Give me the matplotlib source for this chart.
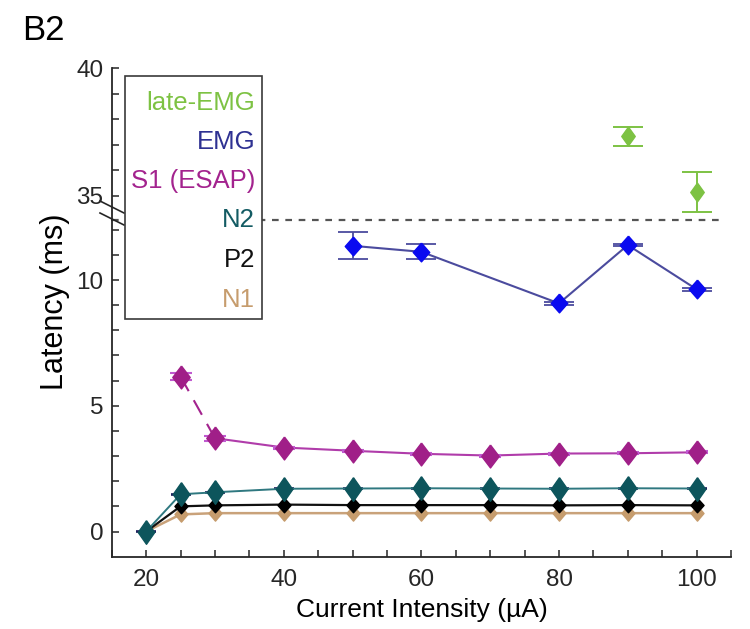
import matplotlib
matplotlib.use("Agg")
import matplotlib.pyplot as plt
from matplotlib.patches import Rectangle
from matplotlib.lines import Line2D

plt.rcParams['font.family'] = ['Liberation Sans', 'DejaVu Sans']

# stimulation currents (uA)
x_all = [20, 25, 30, 40, 50, 60, 70, 80, 90, 100]
x_s1 = [25, 30, 40, 50, 60, 70, 80, 90, 100]
x_emg = [50, 60, 80, 90, 100]
x_late = [90, 100]

# mean latencies (ms)
n1 = [0, 0.68, 0.73, 0.73, 0.73, 0.73, 0.73, 0.73, 0.73, 0.73]
p2 = [0, 1.00, 1.04, 1.07, 1.05, 1.05, 1.05, 1.04, 1.05, 1.04]
n2 = [0, 1.48, 1.56, 1.70, 1.71, 1.72, 1.71, 1.70, 1.72, 1.71]
s1 = [6.16, 3.71, 3.34, 3.21, 3.09, 3.02, 3.10, 3.11, 3.15]
emg = [11.36, 11.12, 9.07, 11.39, 9.63]
late_emg = [37.34, 35.15]

# standard errors (ms)
n2_err = [0.02] * 10
s1_err = [0.15, 0.1, 0.04, 0.04, 0.04, 0.04, 0.04, 0.04, 0.04]
emg_err = [0.53, 0.30, 0.05, 0.05, 0.05]
late_err = [0.37, 0.77]

legend_names = ['late-EMG', 'EMG', 'S1 (ESAP)', 'N2', 'P2', 'N1']
legend_colors = ['#7dc243', '#2e3192', '#a3238e', '#135b63', '#111111', '#c69c6d']

# axis break: lower panel up to y_break_low, upper panel starts at y_break_high
y_break_low = 12.38
y_break_high = 34.05


def diamond(ratio):
    return [(0, 1), (ratio, 0), (0, -1), (-ratio, 0), (0, 1)]


fig = plt.figure(figsize=(7.5, 6.29), dpi=100)
ax_lo = fig.add_axes([0.149, 0.115, 0.8257, 0.535])
ax_hi = fig.add_axes([0.149, 0.650, 0.8257, 0.2414], sharex=ax_lo)

spine_col = '#262626'
for ax in (ax_lo, ax_hi):
    ax.spines['top'].set_visible(False)
    ax.spines['right'].set_visible(False)
    ax.spines['left'].set_color(spine_col)
    ax.spines['left'].set_linewidth(1.3)
    ax.spines['bottom'].set_color(spine_col)
    ax.spines['bottom'].set_linewidth(1.3)
    ax.tick_params(which='both', direction='in', length=5, width=1.1,
                   colors=spine_col, labelsize=17.5, pad=6)
    ax.patch.set_alpha(0)

ax_hi.spines['bottom'].set_visible(False)
ax_hi.tick_params(axis='x', which='both', bottom=False, labelbottom=False)

ax_lo.set_xlim(15, 105)
ax_lo.set_xticks([20, 40, 60, 80, 100])
ax_lo.set_xticks(range(15, 106, 5), minor=True)
ax_lo.tick_params(axis='x', pad=9)
ax_lo.set_ylim(-1, y_break_low)
ax_lo.set_yticks([0, 5, 10])
ax_lo.set_yticks(range(0, 13), minor=True)
ax_hi.set_ylim(y_break_high, 40)
ax_hi.set_yticks([35, 40])
ax_hi.set_yticks(range(35, 41), minor=True)

# N1 / P2 / N2
ax_lo.plot(x_all, n1, color='#c9a27a', lw=1.8, zorder=3,
           marker=diamond(0.85), ms=11, mfc='#c69c6d', mec='#c69c6d')
ax_lo.plot(x_all, p2, color='#111111', lw=1.6, zorder=4,
           marker=diamond(0.9), ms=10.5, mfc='black', mec='black')
ax_lo.errorbar(x_all, n2, yerr=n2_err, color='#2f7880', lw=1.4, zorder=5,
               marker=diamond(0.7), ms=17, mfc='#0d555c', mec='#0d555c',
               ecolor='#1b1b5a', elinewidth=1.2, capsize=7, capthick=1.2)

# S1 (ESAP): dashed first segment, then solid
ax_lo.plot(x_s1[:2], s1[:2], color='#a3238e', lw=1.5, ls=(0, (8, 5)), zorder=5)
ax_lo.plot(x_s1[1:], s1[1:], color='#b03caa', lw=1.5, zorder=5)
ax_lo.errorbar(x_s1, s1, yerr=s1_err, fmt='none', ecolor='#c05ad0',
               elinewidth=1.2, capsize=8, capthick=1.5, zorder=6)
ax_lo.plot(x_s1, s1, ls='none', marker=diamond(0.76), ms=16.5,
           mfc='#a01f88', mec='#a01f88', zorder=6)

# EMG
ax_lo.errorbar(x_emg, emg, yerr=emg_err, color='#4b4b9e', lw=1.5, zorder=6,
               marker=diamond(0.88), ms=13.5, mfc='#0a0af0', mec='#0a0af0',
               ecolor='#4b4b9e', elinewidth=1.3, capsize=11, capthick=1.3)

# late EMG on the upper panel
ax_hi.errorbar(x_late, late_emg, yerr=late_err, fmt='none', ecolor='#7dc243',
               elinewidth=1.4, capsize=11, capthick=1.4, zorder=5)
ax_hi.plot(x_late, late_emg, ls='none', marker=diamond(0.72), ms=13.5,
           mfc='#7dc243', mec='#7dc243', zorder=6)

# dashed line marking the break
ax_lo.axhline(y_break_low, xmin=0, xmax=0.983, color='#555555', lw=1.6,
              ls=(0, (3, 3)), clip_on=False, zorder=2)

# break marks across the y axis
for yc in (207, 219):
    x0, x1 = 100 / 750, 124 / 750
    y0, y1 = 1 - (yc - 6) / 629, 1 - (yc + 6) / 629
    fig.add_artist(Line2D([x0, x1], [y0, y1], color=spine_col, lw=1.2))

# legend: colored labels inside a box
box = Rectangle((0.1667, 0.4924), 0.1823, 0.3866, transform=fig.transFigure,
                facecolor='white', edgecolor='#3a3a3a', lw=1.2, zorder=10)
fig.add_artist(box)
rows = [103, 141.7, 181, 220, 260, 300]
for name, col, yp in zip(legend_names, legend_colors, rows):
    fig.text(0.340, 1 - yp / 629, name, color=col, fontsize=18.5,
             ha='right', va='center', zorder=11)

ax_lo.set_xlabel('Current Intensity (\u00b5A)', fontsize=19, labelpad=5)
fig.text(0.074, 0.52, 'Latency (ms)', rotation=90, fontsize=22,
         ha='center', va='center')
fig.text(0.029, 0.936, 'B2', fontsize=25, ha='left', va='baseline')

fig.savefig('out.png', dpi=100)
